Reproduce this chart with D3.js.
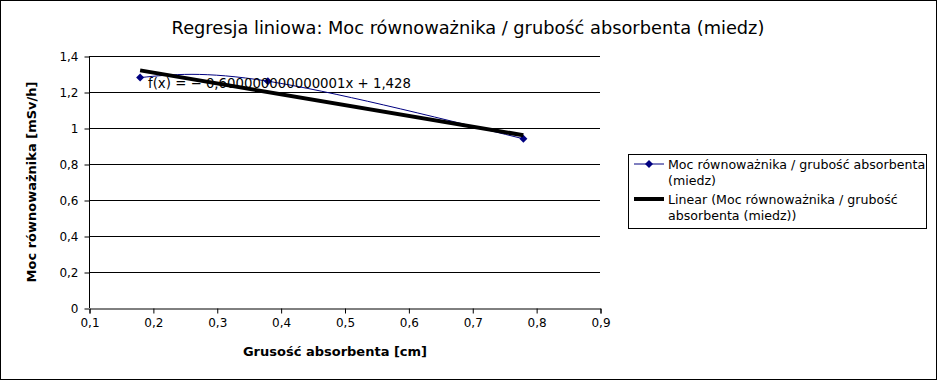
<!DOCTYPE html>
<html><head><meta charset="utf-8">
<script src="https://cdn.jsdelivr.net/npm/d3@7/dist/d3.min.js"></script>
<style>body{margin:0;background:#fff;}svg{display:block;font-family:"DejaVu Sans",sans-serif;}</style>
</head><body>
<script>
const xValues = [0.18, 0.38, 0.78];
const yValues = [1.28, 1.26, 0.94];
const xTicks = [0.1,0.2,0.3,0.4,0.5,0.6,0.7,0.8,0.9];
const yTicks = [0,0.2,0.4,0.6,0.8,1,1.2,1.4];
const seriesName = "Moc równoważnika / grubość absorbenta (miedz)";
const title = "Regresja liniowa: Moc równoważnika / grubość absorbenta (miedz)";
const equationText = "f(x) = − 0,600000000000001x + 1,428";

const W=937,H=380;
const svg=d3.select("body").append("svg").attr("width",W).attr("height",H);
svg.append("rect").attr("x",0.5).attr("y",0.5).attr("width",W-1).attr("height",H-1).attr("fill","#fff").attr("stroke","#000");

const x=d3.scaleLinear().domain([0.1,0.9]).range([89,600]);
const y=d3.scaleLinear().domain([0,1.4]).range([308,56]);
const fmt=d=>d3.format("")(+d.toFixed(1)).replace(".",",");
const diamond="M0,-4L4,0L0,4L-4,0Z";

// grid
svg.append("g").selectAll("line").data(yTicks.filter(d=>d>0)).join("line")
 .attr("x1",x(0.1)).attr("x2",x(0.9)).attr("y1",d=>Math.round(y(d))+0.5).attr("y2",d=>Math.round(y(d))+0.5)
 .attr("stroke","#000");

const ya=svg.append("g").attr("transform",`translate(${x(0.1)+0.5},0.5)`)
 .call(d3.axisLeft(y).tickValues(yTicks).tickSize(5).tickPadding(6).tickFormat(d=>d===0?"0":(d===1?"1":fmt(d))));
const xa=svg.append("g").attr("transform",`translate(0.5,${y(0)+0.5})`)
 .call(d3.axisBottom(x).tickValues(xTicks).tickSize(5).tickPadding(5).tickFormat(fmt));
[ya,xa].forEach(a=>{a.select(".domain").attr("stroke","#000");a.selectAll("line").attr("stroke","#000");
 a.selectAll("text").attr("font-size",12).attr("fill","#000").attr("font-family","DejaVu Sans");});
ya.select(".domain").remove();
svg.append("line").attr("x1",x(0.1)+0.5).attr("x2",x(0.1)+0.5).attr("y1",y(1.4)).attr("y2",y(0)).attr("stroke","#000");

// data series
const pts=xValues.map((v,i)=>[v,yValues[i]]);
svg.append("path").datum(pts).attr("fill","none").attr("stroke","#000080").attr("stroke-width",1)
 .attr("d",d3.line().x(d=>x(d[0])).y(d=>y(d[1])).curve(d3.curveNatural));
svg.append("g").selectAll("path").data(pts).join("path")
 .attr("transform",d=>`translate(${x(d[0])},${y(d[1])})`)
 .attr("d",diamond).attr("fill","#000080");

// regression
const mx=d3.mean(xValues),my=d3.mean(yValues);
const slope=d3.sum(xValues,(v,i)=>(v-mx)*(yValues[i]-my))/d3.sum(xValues,v=>(v-mx)**2);
const icpt=my-slope*mx;
const ext=d3.extent(xValues);
svg.append("line").attr("x1",x(ext[0])).attr("x2",x(ext[1]))
 .attr("y1",y(slope*ext[0]+icpt)).attr("y2",y(slope*ext[1]+icpt)).attr("stroke","#000").attr("stroke-width",4);

svg.append("text").attr("x",148).attr("y",88).attr("font-size",13.3).text(equationText);

// title
svg.append("text").attr("x",468).attr("y",34).attr("text-anchor","middle").attr("font-size",17.8).text(title);
svg.append("text").attr("x",335).attr("y",356).attr("text-anchor","middle").attr("font-size",13).attr("font-weight","bold").text("Grusość absorbenta [cm]");
svg.append("text").attr("transform","translate(36,182) rotate(-90)").attr("text-anchor","middle").attr("font-size",13).attr("font-weight","bold").text("Moc równoważnika [mSv/h]");

// legend
const lg=svg.append("g");
lg.append("rect").attr("x",628.5).attr("y",154.5).attr("width",298).attr("height",74).attr("fill","#fff").attr("stroke","#000");
lg.append("line").attr("x1",634).attr("x2",664).attr("y1",164).attr("y2",164).attr("stroke","#000080");
lg.append("path").attr("transform","translate(649,164)").attr("d",diamond).attr("fill","#000080");
lg.append("line").attr("x1",634).attr("x2",664).attr("y1",199).attr("y2",199).attr("stroke","#000").attr("stroke-width",4);
const lt=[["Moc równoważnika / grubość absorbenta",169],["(miedz)",185],["Linear (Moc równoważnika / grubość",204],["absorbenta (miedz))",220]];
lg.selectAll("text").data(lt).join("text").attr("x",668).attr("y",d=>d[1]).attr("font-size",12.6).text(d=>d[0]);
</script>
</body></html>
